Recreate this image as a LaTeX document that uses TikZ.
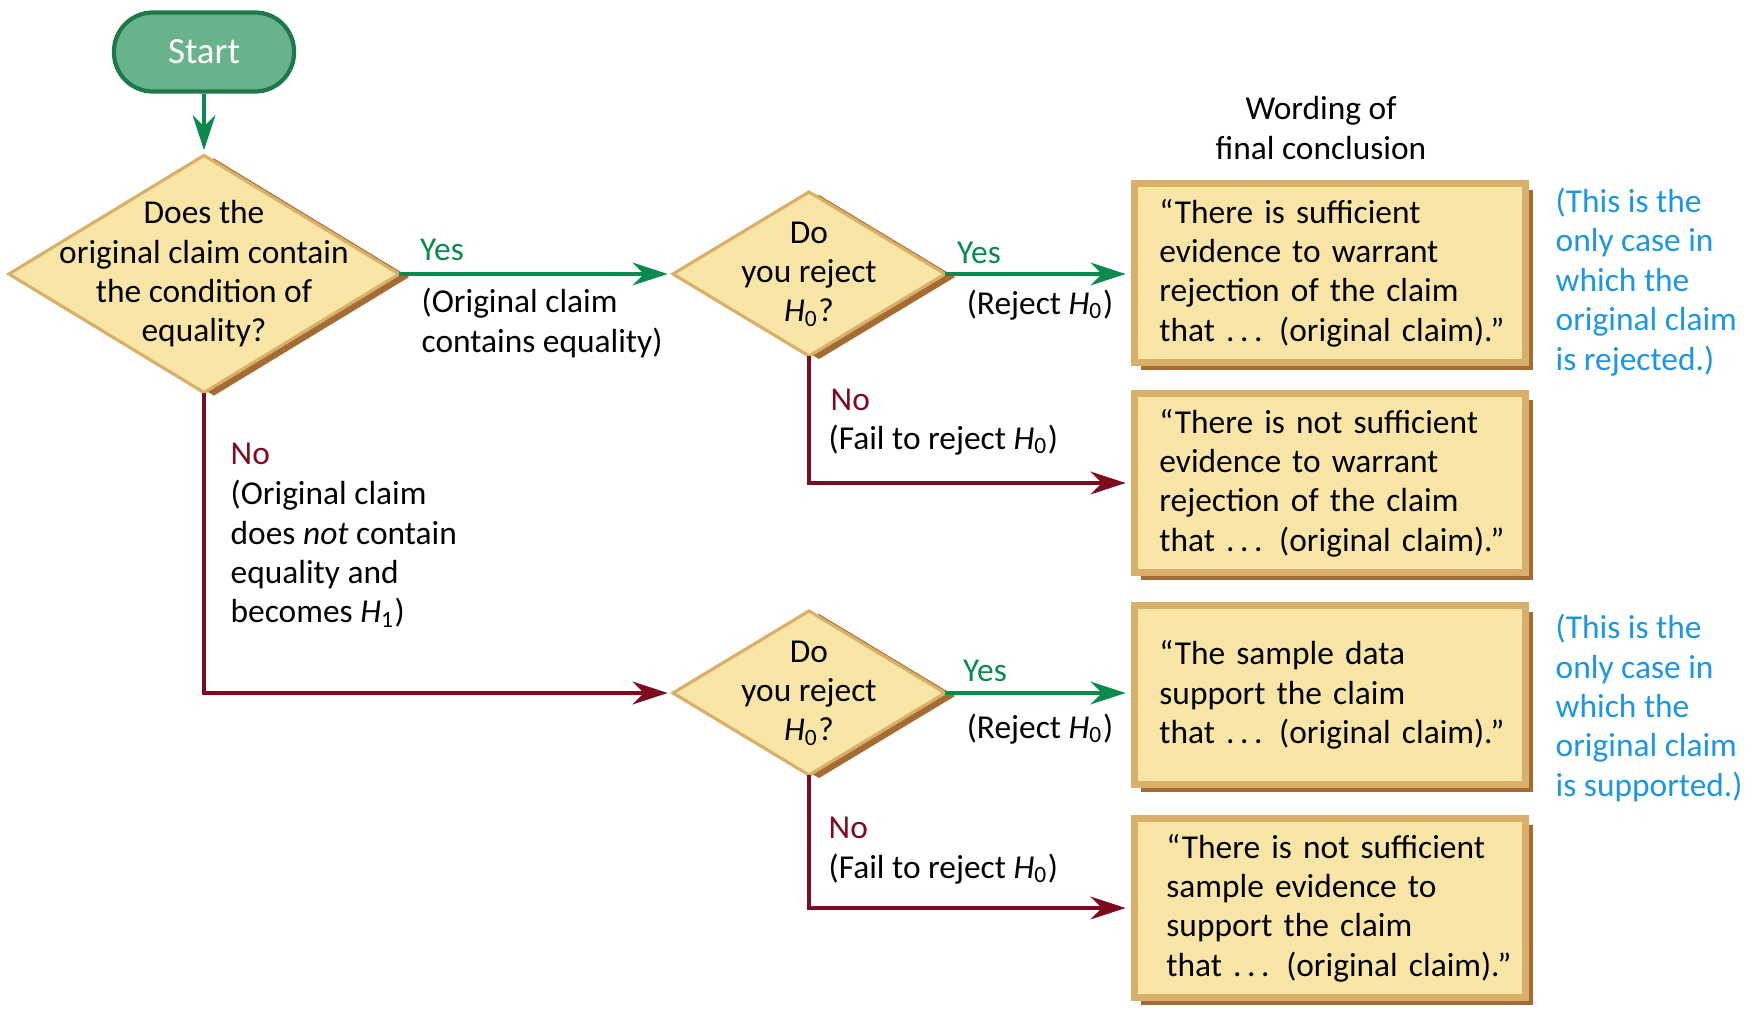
\documentclass[tikz,border=0pt]{standalone}
\usepackage{fontspec}
\setmainfont{Carlito}
\usetikzlibrary{shapes.geometric,arrows.meta,shadows}

\definecolor{qfill}{HTML}{F9E5A6}
\definecolor{qedge}{HTML}{D8B06A}
\definecolor{qshadow}{HTML}{A46C34}
\definecolor{yescol}{HTML}{0A8A4C}
\definecolor{nocol}{HTML}{7D0A1F}
\definecolor{notecol}{HTML}{1C95E4}
\definecolor{startfill}{HTML}{69B38C}
\definecolor{startedge}{HTML}{1E7A4B}

\newcommand\flowfont{\fontsize{9.5}{11.2}\selectfont}
\newcommand\thatline{\mbox{that .\,.\,. (original claim).”}}

\tikzset{
  startbox/.style={rectangle, rounded corners=0.39cm, fill=startfill, draw=startedge,
    line width=1.2pt, minimum width=1.8cm, minimum height=0.79cm, text=white,
    font=\fontsize{10.5}{12}\selectfont},
  question/.style={shape=diamond, fill=qfill, draw=qedge, line width=0.9pt,
    inner sep=0pt, outer sep=0pt,
    drop shadow={shadow xshift=0.1cm, shadow yshift=-0.03cm, fill=qshadow, opacity=1}},
  qtext/.style={align=center, inner sep=0pt, font=\flowfont},
  endbox/.style={rectangle, fill=qfill, draw=qedge, line width=2pt,
    text width=3.41cm, inner xsep=0.25cm, minimum height=1.79cm, align=left,
    font=\flowfont,
    drop shadow={shadow xshift=0.07cm, shadow yshift=-0.07cm, fill=qshadow, opacity=1}},
  lbl/.style={inner sep=0pt, align=left, font=\flowfont},
  note/.style={inner sep=0pt, align=left, font=\flowfont, text=notecol},
  yesline/.style={draw=yescol, line width=1pt, shorten >=1.5pt,
    -{Stealth[length=10pt,width=6.5pt]}},
  noline/.style={draw=nocol, line width=1pt, shorten >=1.5pt,
    -{Stealth[length=10pt,width=6.5pt]}},
}

\begin{document}
\begin{tikzpicture}[x=0.01cm, y=-0.01cm]
  \useasboundingbox (0,0) rectangle (1754,1018);

  % start and questions
  \node[startbox] (start) at (204,52) {Start};

  \node[question, minimum width=3.9cm, minimum height=2.37cm] (q1) at (204,274) {};
  \node[qtext] (q1txt) at (q1) {Does the\\original claim contain\\the condition of\\equality?};

  \node[question, minimum width=2.72cm, minimum height=1.64cm] (q2) at (809,274) {};
  \node[qtext] (q2txt) at (q2) {Do\\you reject\\\textit{H}\textsubscript{0}?};

  \node[question, minimum width=2.72cm, minimum height=1.64cm] (q3) at (809,693) {};
  \node[qtext] (q3txt) at (q3) {Do\\you reject\\\textit{H}\textsubscript{0}?};

  % final wording
  \node[qtext] (wording) at (1321,128) {Wording of\\final conclusion};

  \node[endbox] (box1) at (1330,273) {“There is sufficient\\evidence to warrant\\rejection of the claim\\\thatline};
  \node[endbox] (box2) at (1330,483) {“There is not sufficient\\evidence to warrant\\rejection of the claim\\\thatline};
  \node[endbox] (box3) at (1330,695) {“The sample data\\support the claim\\\thatline};
  \node[endbox] (box4) at (1330,908) {\hspace*{0.07cm}“There is not sufficient\\\hspace*{0.07cm}sample evidence to\\\hspace*{0.07cm}support the claim\\\hspace*{0.07cm}\thatline};

  \node[note, anchor=west] (note1) at (1555,282) {(This is the\\only case in\\which the\\original claim\\is rejected.)};
  \node[note, anchor=west] (note2) at (1555,708) {(This is the\\only case in\\which the\\original claim\\is supported.)};

  % connectors
  \draw[yesline] (start) -- (q1);
  \draw[yesline] (q1.east) -- (q2.west);
  \draw[yesline] (q2.east) -- (q2.east -| box1.west);
  \draw[noline] (q2.south) |- (box2.west);
  \draw[noline] (q1.south) |- (q3.west);
  \draw[yesline] (q3.east) -- (q3.east -| box3.west);
  \draw[noline] (q3.south) |- (box4.west);

  % connector labels
  \node[lbl, text=yescol] (yes1) at (442,250) {Yes};
  \node[lbl, anchor=west] (orig1) at (421,323) {(Original claim\\contains equality)};
  \node[lbl, text=yescol] (yes2) at (979,253) {Yes};
  \node[lbl] (rej1) at (1040,305) {(Reject \textit{H}\textsubscript{0})};
  \node[lbl, anchor=west, text=nocol] (no1) at (830,400) {No};
  \node[lbl, anchor=west] (fail1) at (828,440) {(Fail to reject \textit{H}\textsubscript{0})};

  \node[lbl, anchor=west, text=nocol] (no2) at (230,454) {No};
  \node[lbl, anchor=west] (orig2) at (230,554) {(Original claim\\does \textit{not} contain\\equality and\\becomes \textit{H}\textsubscript{1})};

  \node[lbl, text=yescol] (yes3) at (985,671) {Yes};
  \node[lbl] (rej2) at (1040,729) {(Reject \textit{H}\textsubscript{0})};
  \node[lbl, anchor=west, text=nocol] (no3) at (828,828) {No};
  \node[lbl, anchor=west] (fail2) at (828,869) {(Fail to reject \textit{H}\textsubscript{0})};
\end{tikzpicture}
\end{document}
